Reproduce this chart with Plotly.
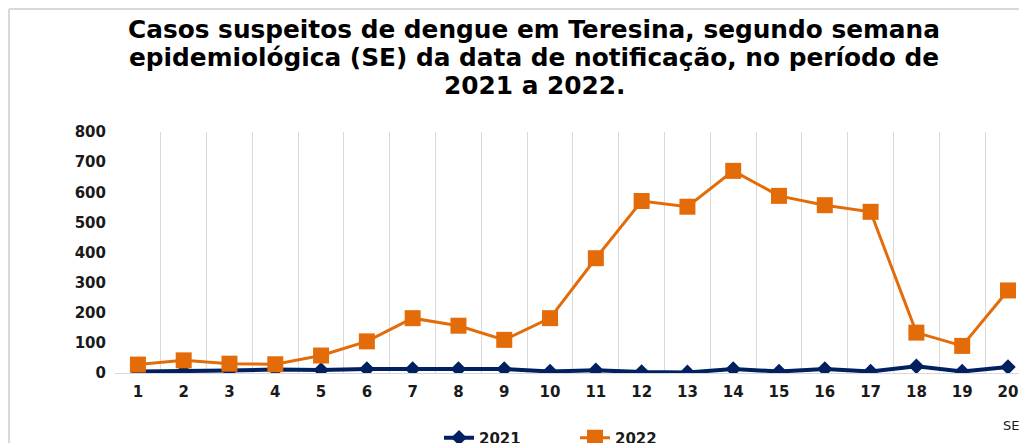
import plotly.graph_objects as go

semanas = list(range(1, 21))
casos_2021 = [5, 5, 8, 12, 10, 13, 13, 13, 13, 5, 9, 3, 2, 13, 5, 13, 5, 22, 5, 20]
casos_2022 = [28, 42, 31, 29, 58, 105, 182, 157, 110, 182, 381, 571, 552, 671, 588, 557, 535, 134, 90, 274]
y_ticks = [0, 100, 200, 300, 400, 500, 600, 700, 800]

titulo_linhas = [
    "Casos suspeitos de dengue em Teresina, segundo semana",
    "epidemiológica (SE) da data de notificação, no período de",
    "2021 a 2022.",
]

W, H = 1027, 443
OFF = 8  # page body margin offset
ML, MR, MT, MB = 107, 0, 124, 78
pw, ph = W - ML - MR, H - MT - MB

def px_x(p):
    return (p - OFF - ML) / pw

def px_y(p):
    return (H - MB - (p - OFF)) / ph

fig = go.Figure()
fig.add_trace(go.Scatter(
    x=semanas, y=casos_2021, name="2021", mode="lines+markers",
    line=dict(color="#002060", width=4),
    marker=dict(symbol="diamond", size=12, color="#002060"),
))
fig.add_trace(go.Scatter(
    x=semanas, y=casos_2022, name="2022", mode="lines+markers",
    line=dict(color="#E36C09", width=3),
    marker=dict(symbol="square", size=16, color="#E36C09"),
))

title_font = dict(family="DejaVu Sans", size=24.8, color="#000000", weight="bold")
annotations = []
for txt, yc in zip(titulo_linhas, [30, 57, 85]):
    annotations.append(dict(text=txt, xref="paper", yref="paper", x=px_x(534), y=px_y(yc),
                            xanchor="center", yanchor="middle", showarrow=False,
                            font=title_font))
annotations.append(dict(text="SE", xref="paper", yref="paper", x=px_x(1011), y=px_y(425),
                        xanchor="center", yanchor="middle", showarrow=False,
                        font=dict(family="DejaVu Sans", size=13, color="#1a1a1a")))

tick_font = dict(family="DejaVu Sans", size=15, color="#1a1a1a", weight="bold")

fig.update_layout(
    width=W, height=H,
    margin=dict(l=ML, r=MR, t=MT, b=MB, autoexpand=False),
    paper_bgcolor="white", plot_bgcolor="white",
    showlegend=True,
    legend=dict(orientation="h", xref="container", yref="container",
                x=(439 - OFF) / W, xanchor="left", y=1 - (438 - OFF) / H, yanchor="middle",
                font=dict(family="DejaVu Sans", size=15, color="#1a1a1a", weight="bold"),
                entrywidth=91, bgcolor="rgba(0,0,0,0)"),
    xaxis=dict(
        range=[0.5, 20.59], tickmode="array", tickvals=semanas,
        ticktext=[str(s) for s in semanas], automargin=False,
        showgrid=False, zeroline=False, showline=True, linecolor="#d9d9d9", linewidth=1,
        ticks="", ticklabelstandoff=5, tickfont=tick_font,
        minor=dict(tickvals=[s - 0.5 for s in semanas] + [20.5], showgrid=True,
                   gridcolor="#d9d9d9", gridwidth=1, ticks=""),
    ),
    yaxis=dict(
        range=[0, 800], tickmode="array", tickvals=y_ticks, automargin=False,
        showgrid=False, zeroline=False, showline=False, ticks="",
        ticklabelstandoff=8, tickfont=tick_font,
    ),
    annotations=annotations,
    shapes=[
        dict(type="line", xref="paper", yref="paper", x0=px_x(9), x1=px_x(W + 20),
             y0=px_y(9), y1=px_y(9), line=dict(color="#d9d9d9", width=2)),
        dict(type="line", xref="paper", yref="paper", x0=px_x(9), x1=px_x(9),
             y0=px_y(9), y1=px_y(H + 20), line=dict(color="#d9d9d9", width=2)),
    ],
)

fig.write_html("out.html")
